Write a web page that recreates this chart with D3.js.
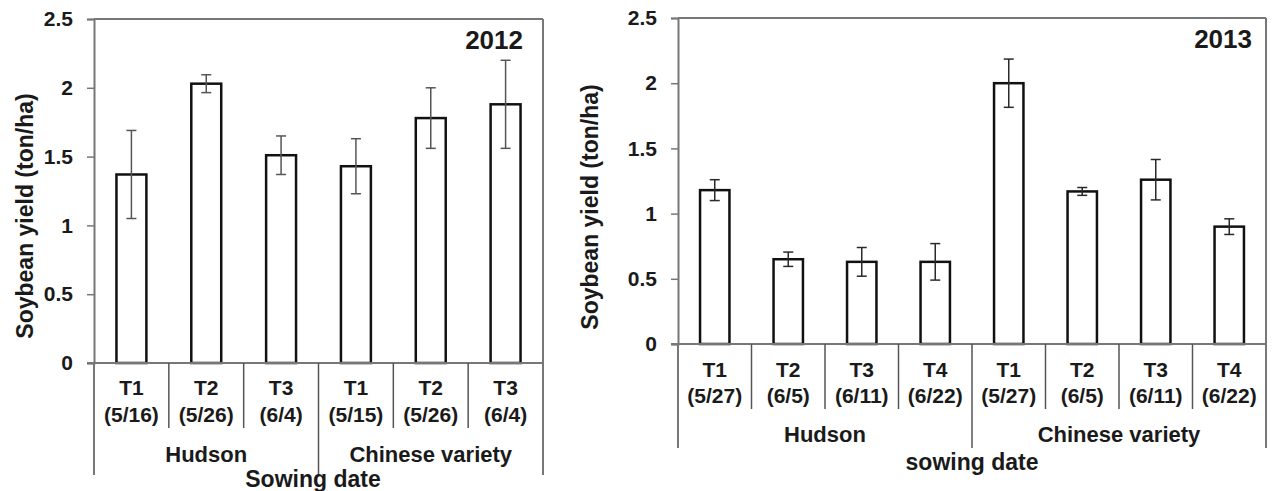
<!DOCTYPE html>
<html>
<head>
<meta charset="utf-8">
<script src="https://cdn.jsdelivr.net/npm/d3@7"></script>
<style>
  body { margin: 0; background: #fff; }
  svg text { font-family: "Liberation Sans", Arial, sans-serif; font-weight: bold; fill: #1a1a1a; }
</style>
</head>
<body>
<svg id="chart" width="1273" height="491"></svg>
<script>
// ---- data ----
const yTickValues = [0, 0.5, 1, 1.5, 2, 2.5];
const yTickLabels = ["0", "0.5", "1", "1.5", "2", "2.5"];
const varieties = ["Hudson", "Chinese variety"];
const yAxisTitle = "Soybean yield (ton/ha)";

// 2012 season
const treat2012 = ["T1", "T2", "T3", "T1", "T2", "T3"];
const dates2012 = ["(5/16)", "(5/26)", "(6/4)", "(5/15)", "(5/26)", "(6/4)"];
const variety2012 = ["Hudson", "Hudson", "Hudson", "Chinese variety", "Chinese variety", "Chinese variety"];
const yield2012 = [1.37, 2.03, 1.51, 1.43, 1.78, 1.88];
const err2012 = [0.32, 0.065, 0.14, 0.20, 0.22, 0.32];

// 2013 season
const treat2013 = ["T1", "T2", "T3", "T4", "T1", "T2", "T3", "T4"];
const dates2013 = ["(5/27)", "(6/5)", "(6/11)", "(6/22)", "(5/27)", "(6/5)", "(6/11)", "(6/22)"];
const variety2013 = ["Hudson", "Hudson", "Hudson", "Hudson", "Chinese variety", "Chinese variety", "Chinese variety", "Chinese variety"];
const yield2013 = [1.18, 0.65, 0.63, 0.63, 2.00, 1.17, 1.26, 0.90];
const err2013 = [0.08, 0.055, 0.11, 0.14, 0.185, 0.03, 0.155, 0.06];

// ---- drawing ----
const svg = d3.select("#chart");
const frameColor = "#777";
const sepColor = "#555";

function drawPanel(p) {
  const n = p.values.length;
  const g = svg.append("g");
  const x = d3.scaleBand().domain(d3.range(n)).range([p.left, p.right]).paddingInner(0).paddingOuter(0);
  const y = d3.scaleLinear().domain([0, 2.5]).range([p.zero, p.top]);
  const bw = x.bandwidth();
  const barW = bw * 0.4;

  // y axis
  const yAxis = d3.axisLeft(y)
    .tickValues(yTickValues)
    .tickFormat((d, i) => yTickLabels[i])
    .tickSize(7)
    .tickPadding(14);
  const ya = g.append("g").attr("transform", `translate(${p.left},0)`).call(yAxis);
  ya.select(".domain").attr("stroke", frameColor).attr("stroke-width", 2);
  ya.selectAll(".tick line").attr("stroke", frameColor).attr("stroke-width", 1.5);
  ya.selectAll(".tick text").style("font-size", "21px").attr("fill", "#1a1a1a");

  // frame: top and right border
  g.append("line").attr("x1", p.left).attr("x2", p.right).attr("y1", y(2.5)).attr("y2", y(2.5))
    .attr("stroke", frameColor).attr("stroke-width", 2);
  g.append("line").attr("x1", p.right).attr("x2", p.right).attr("y1", y(2.5)).attr("y2", p.groupBottom)
    .attr("stroke", frameColor).attr("stroke-width", 2);
  g.append("line").attr("x1", p.left).attr("x2", p.left).attr("y1", y(0)).attr("y2", p.groupBottom)
    .attr("stroke", frameColor).attr("stroke-width", 2);

  // bars
  g.selectAll("rect.bar").data(p.values).join("rect")
    .attr("class", "bar")
    .attr("x", (d, i) => x(i) + (bw - barW) / 2)
    .attr("y", d => y(d))
    .attr("width", barW)
    .attr("height", d => y(0) - y(d))
    .attr("fill", "#fff").attr("stroke", "#111").attr("stroke-width", 2.5);

  // error bars
  const eg = g.selectAll("g.err").data(p.values).join("g").attr("class", "err")
    .attr("stroke", p.errColor).attr("stroke-width", 1.5);
  eg.append("line")
    .attr("x1", (d, i) => x(i) + bw / 2).attr("x2", (d, i) => x(i) + bw / 2)
    .attr("y1", (d, i) => y(d + p.errors[i])).attr("y2", (d, i) => y(d - p.errors[i]));
  eg.append("line")
    .attr("x1", (d, i) => x(i) + bw / 2 - 5).attr("x2", (d, i) => x(i) + bw / 2 + 5)
    .attr("y1", (d, i) => y(d + p.errors[i])).attr("y2", (d, i) => y(d + p.errors[i]));
  eg.append("line")
    .attr("x1", (d, i) => x(i) + bw / 2 - 5).attr("x2", (d, i) => x(i) + bw / 2 + 5)
    .attr("y1", (d, i) => y(d - p.errors[i])).attr("y2", (d, i) => y(d - p.errors[i]));

  // category axis line at zero
  g.append("line").attr("x1", p.left - 7).attr("x2", p.right).attr("y1", y(0)).attr("y2", y(0))
    .attr("stroke", frameColor).attr("stroke-width", 2);

  // category separators (longer at variety boundary)
  d3.range(1, n).forEach(i => {
    const boundary = p.variety[i] !== p.variety[i - 1];
    g.append("line").attr("x1", x(i)).attr("x2", x(i))
      .attr("y1", y(0)).attr("y2", boundary ? p.groupBottom : p.sepBottom)
      .attr("stroke", sepColor).attr("stroke-width", 1.5);
  });

  // category labels
  g.selectAll("text.treat").data(p.treat).join("text").attr("class", "treat")
    .attr("x", (d, i) => x(i) + bw / 2).attr("y", p.treatY)
    .attr("text-anchor", "middle").style("font-size", "21px").text(d => d);
  g.selectAll("text.date").data(p.dates).join("text").attr("class", "date")
    .attr("x", (d, i) => x(i) + bw / 2).attr("y", p.dateY)
    .attr("text-anchor", "middle").style("font-size", "21px").text(d => d);

  // variety group labels
  varieties.forEach(v => {
    const idx = d3.range(n).filter(i => p.variety[i] === v);
    const cx = (x(idx[0]) + x(idx[idx.length - 1]) + bw) / 2;
    g.append("text").attr("x", cx).attr("y", p.groupY)
      .attr("text-anchor", "middle").style("font-size", "22px").text(v);
  });

  // axis titles
  g.append("text").attr("x", p.xTitleX).attr("y", p.xTitleY)
    .attr("text-anchor", "middle").style("font-size", "23px").text(p.xTitle);
  g.append("text").attr("transform", `translate(${p.yTitleX},${p.yTitleY}) rotate(-90)`)
    .attr("text-anchor", "middle").style("font-size", "23px").text(yAxisTitle);

  // season label
  g.append("text").attr("x", p.yearX).attr("y", p.yearY)
    .attr("text-anchor", "end").style("font-size", "26px").attr("fill", "#000").text(p.year);
}

drawPanel({
  values: yield2012, errors: err2012, treat: treat2012, dates: dates2012, variety: variety2012,
  left: 94, right: 543, top: 19, zero: 363,
  sepBottom: 428, groupBottom: 475,
  treatY: 395, dateY: 422, groupY: 462,
  xTitle: "Sowing date", xTitleX: 313, xTitleY: 487,
  yTitleX: 33, yTitleY: 216,
  year: "2012", yearX: 523, yearY: 49, errColor: "#555"
});

drawPanel({
  values: yield2013, errors: err2013, treat: treat2013, dates: dates2013, variety: variety2013,
  left: 678, right: 1266, top: 18, zero: 344,
  sepBottom: 409, groupBottom: 448,
  treatY: 377, dateY: 403, groupY: 442,
  xTitle: "sowing date", xTitleX: 972, xTitleY: 470,
  yTitleX: 598, yTitleY: 207,
  year: "2013", yearX: 1252, yearY: 48, errColor: "#2a2a2a"
});
</script>
</body>
</html>
